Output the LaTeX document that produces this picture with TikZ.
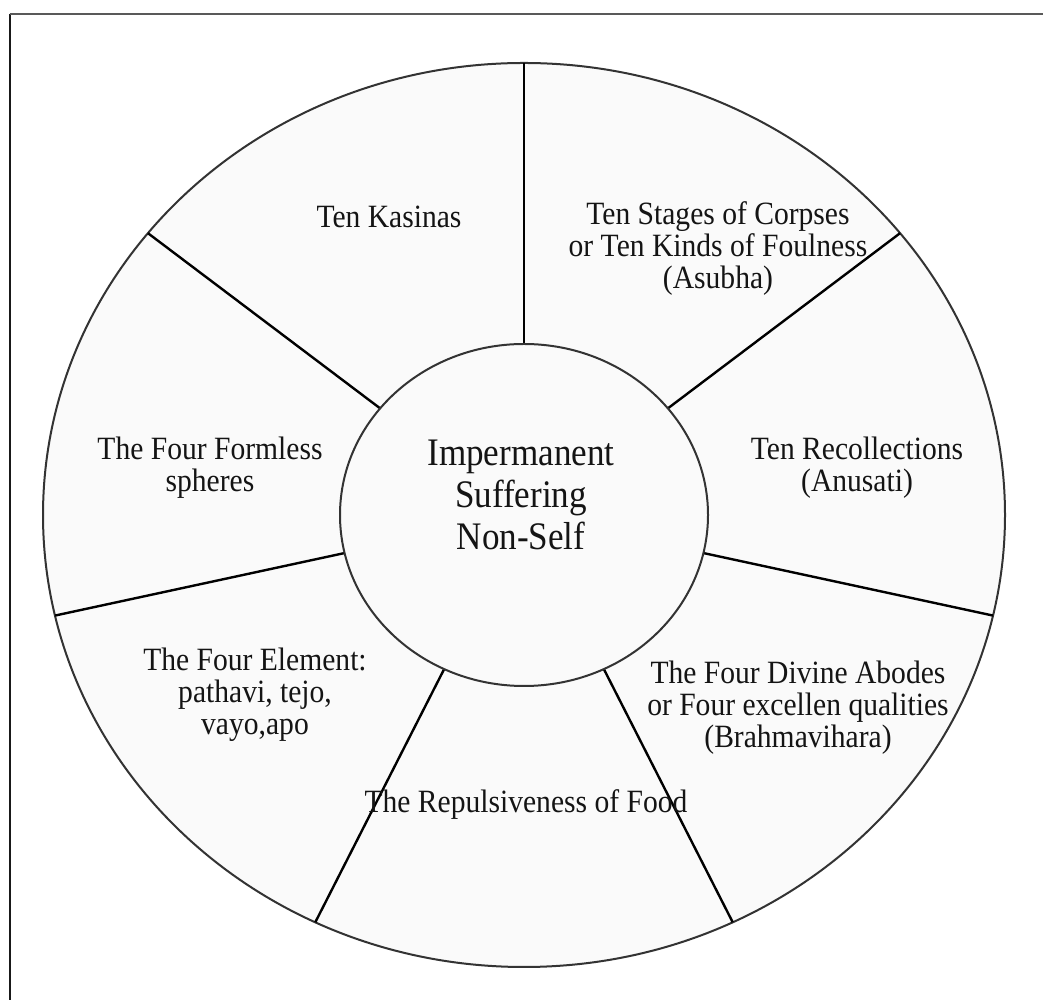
\documentclass[tikz,border=0pt]{standalone}
\usepackage{fontspec}
\setmainfont{Liberation Serif}
\newfontfamily\narrowserif[FakeStretch=0.91]{Liberation Serif}
\newfontfamily\hubserif[FakeStretch=0.9]{Liberation Serif}
\usetikzlibrary{calc,shapes.geometric}
\begin{document}
\begin{tikzpicture}[x=1pt,y=1pt,
  rim/.style={draw=black!80, line width=2pt, fill=black!2, ellipse, inner sep=0pt, outer sep=0pt},
  spoke/.style={draw=black, line width=2.4pt},
  lbl/.style={align=center, font=\narrowserif\fontsize{32.5}{32}\selectfont, text=black!92, inner sep=0pt},
  hubtxt/.style={align=center, font=\hubserif\fontsize{39}{42}\selectfont, text=black!92, inner sep=0pt}]
\useasboundingbox (0,0) rectangle (1043,1000);
\fill[white] (0,0) rectangle (1043,1000);
% frame
\coordinate (fb) at (9.5,0);
\coordinate (fc) at (9.5,986);
\coordinate (fr) at (1043,986);
\draw[line width=2pt, black!90] (fb) -- (fc);
\draw[line width=2pt, black!65] (fc) -- (fr);
% wheel
\coordinate (c) at (524,485);
\node[rim, minimum width=962, minimum height=904] (outer) at (c) {};
\foreach \a [count=\i] in {90,38.571,-12.857,-64.286,-115.714,-167.143,141.429}{
  \coordinate (in\i) at ($(c)+(\a:184 and 171)$);
  \coordinate (out\i) at ($(c)+(\a:481 and 452)$);
  \draw[spoke] (in\i) -- (out\i);
}
\node[rim, minimum width=368, minimum height=342] (hub) at (c) {};
\node[hubtxt] (hubt) at (521,505.5) {Impermanent\\Suffering\\Non-Self};
% sector labels
\node[lbl] (s1) at (389,783) {Ten Kasinas};
\node[lbl] (s2) at (718,751) {Ten Stages of Corpses\\or Ten Kinds of Foulness\\(Asubha)};
\node[lbl] (s3) at (857,532) {Ten Recollections\\(Anusati)};
\node[lbl] (s4) at (798,292.5) {The Four Divine Abodes\\or Four excellen qualities\\(Brahmavihara)};
\node[lbl] (s5) at (526,195) {The Repulsiveness of Food};
\node[lbl] (s6) at (255,305) {The Four Element:\\pathavi, tejo,\\vayo,apo};
\node[lbl] (s7) at (210,532.5) {The Four Formless\\spheres};
\end{tikzpicture}
\end{document}
